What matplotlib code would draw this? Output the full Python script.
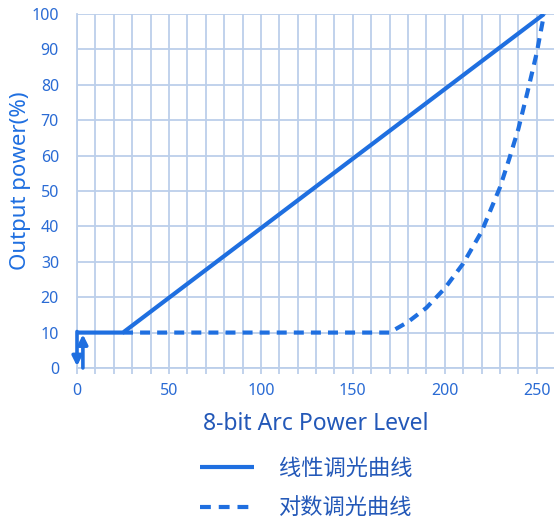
import matplotlib
matplotlib.use('Agg')
import matplotlib.pyplot as plt
from matplotlib.lines import Line2D
from matplotlib.ticker import MultipleLocator

plt.rcParams['font.family'] = ['Noto Sans', 'Noto Sans CJK SC', 'DejaVu Sans']

# 线性调光曲线
lin_x = [0, 25, 254]
lin_y = [10, 10, 100]

# 对数调光曲线
log_x = [25, 170, 180, 190, 200, 210, 220, 230, 235, 240, 245, 250, 254]
log_y = [10, 10, 13, 17, 22.5, 29.5, 38.5, 51, 59, 67.5, 78, 89, 100]

x_ticks = [0, 50, 100, 150, 200, 250]
y_ticks = [0, 10, 20, 30, 40, 50, 60, 70, 80, 90, 100]

LINE = '#1f6fe0'
TICK = '#2a6bd4'
LABEL = '#2358b8'
GRID = '#bccfea'

fig = plt.figure(figsize=(5.54, 5.19), dpi=100)
ax = fig.add_axes([0.139, 0.291, 0.863, 0.682])

ax.plot(lin_x, lin_y, color=LINE, lw=3, solid_capstyle='butt', zorder=3)
ax.plot(log_x, log_y, color=LINE, lw=3, dashes=(2.4, 1.7), zorder=3)

# arrows at the origin
ax.annotate('', xy=(0, 0.5), xytext=(0, 10.3),
            arrowprops=dict(arrowstyle='-|>', color=LINE, lw=2.6,
                            mutation_scale=14, shrinkA=0, shrinkB=0), zorder=4)
ax.annotate('', xy=(3.2, 9.5), xytext=(3.2, 0),
            arrowprops=dict(arrowstyle='-|>', color=LINE, lw=2.6,
                            mutation_scale=14, shrinkA=0, shrinkB=0), zorder=4)

ax.set_xlim(0, 260)
ax.set_ylim(0, 100)
ax.set_xticks(x_ticks)
ax.set_yticks(y_ticks)
ax.xaxis.set_minor_locator(MultipleLocator(10))
ax.grid(which='both', color=GRID, lw=1.3, zorder=0)
ax.set_axisbelow(True)
for s in ax.spines.values():
    s.set_visible(False)
for side in ['left', 'bottom']:
    ax.spines[side].set_visible(True)
    ax.spines[side].set_color(GRID)
    ax.spines[side].set_linewidth(1.3)

ax.tick_params(axis='x', which='both', length=4, color=GRID, width=1.3,
               labelcolor=TICK, labelsize=11.5, pad=7)
ax.tick_params(axis='y', length=0, labelcolor=TICK, labelsize=11.5, pad=13)

ax.set_ylabel('Output power(%)', color=LINE, fontsize=16)
ax.yaxis.set_label_coords(-0.096, 0.53)
ax.set_xlabel('8-bit Arc Power Level', color=LABEL, fontsize=16.5, labelpad=9)

handles = [Line2D([], [], color=LINE, lw=3, solid_capstyle='butt'),
           Line2D([], [], color=LINE, lw=3, dashes=(2.6, 1.9))]
fig.legend(handles, ['线性调光曲线', '对数调光曲线'], loc='upper left',
           bbox_to_anchor=(0.345, 0.133), frameon=False, fontsize=16,
           handlelength=2.45, handletextpad=1.1, labelspacing=0.85,
           labelcolor=LABEL, borderaxespad=0)

fig.savefig('out.png', dpi=100)
